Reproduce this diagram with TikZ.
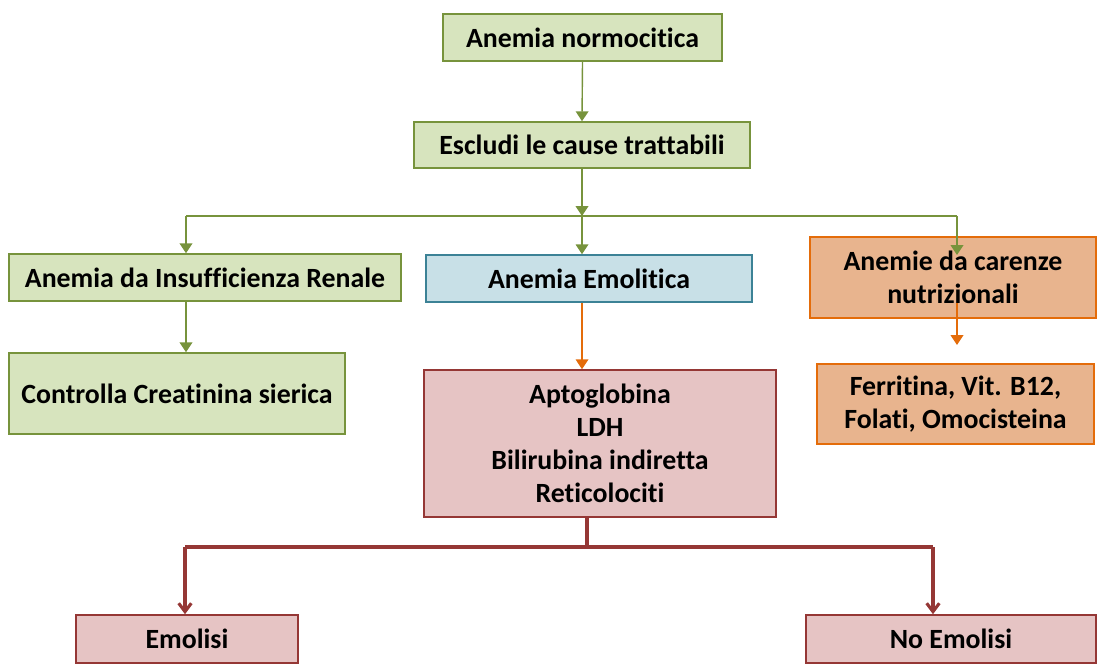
\documentclass[tikz,border=0pt]{standalone}
\usepackage{fontspec}
\setmainfont[Ligatures=NoCommon]{Carlito}
\usetikzlibrary{arrows.meta}
\definecolor{gfill}{RGB}{215,228,190}
\definecolor{gdraw}{RGB}{119,147,60}
\definecolor{bfill}{RGB}{200,224,231}
\definecolor{bdraw}{RGB}{60,130,150}
\definecolor{ofill}{RGB}{232,180,142}
\definecolor{odraw}{RGB}{228,108,10}
\definecolor{pfill}{RGB}{230,196,196}
\definecolor{pdraw}{RGB}{149,55,53}
\tikzset{
  box/.style={rectangle,line width=1.1pt,align=center,font=\fontsize{19.8}{23.5}\selectfont\bfseries,inner sep=2pt},
  greenbox/.style={box,draw=gdraw,fill=gfill},
  bluebox/.style={box,draw=bdraw,fill=bfill},
  orangebox/.style={box,draw=odraw,fill=ofill},
  pinkbox/.style={box,draw=pdraw,fill=pfill},
  gline/.style={draw=gdraw,line width=1pt},
  garrow/.style={gline,-{Triangle[width=9pt,length=7pt]}},
  oarrow/.style={draw=odraw,line width=1pt,-{Triangle[width=9pt,length=7pt]}},
  rline/.style={draw=pdraw,line width=2.2pt},
  rarrow/.style={rline,-{Straight Barb[width=9pt,length=6pt]}}
}
\begin{document}
\begin{tikzpicture}[x=0.025cm,y=-0.025cm]
\useasboundingbox (0,0) rectangle (1097,668);
\node[greenbox,minimum width=6.975cm,minimum height=1.175cm] (norm) at (582.5,37.5) {Anemia normocitica};
\node[greenbox,minimum width=8.4cm,minimum height=1.15cm] (escl) at (582,145) {Escludi le cause trattabili};
\node[greenbox,minimum width=9.8cm,minimum height=1.175cm] (renal) at (205,277.5) {Anemia da Insufficienza Renale};
\node[bluebox,minimum width=8.15cm,minimum height=1.175cm] (emol) at (589,278.5) {Anemia Emolitica};
\node[orangebox,minimum width=7.15cm,minimum height=2.025cm] (caren) at (953,277.5) {Anemie da carenze\\nutrizionali};
\node[greenbox,minimum width=8.4cm,minimum height=2.025cm] (creat) at (177,393.5) {Controlla Creatinina sierica};
\node[pinkbox,minimum width=8.8cm,minimum height=3.675cm] (lab) at (600,443.5) {Aptoglobina\\LDH\\Bilirubina indiretta\\Reticolociti};
\node[orangebox,minimum width=6.925cm,minimum height=2cm] (ferr) at (955.5,404) {Ferritina, Vit. B12,\\Folati, Omocisteina};
\node[pinkbox,minimum width=5.55cm,minimum height=1.2cm] (emolisi) at (187,639) {Emolisi};
\node[pinkbox,minimum width=7.25cm,minimum height=1.2cm] (noemol) at (951,639) {No Emolisi};
\coordinate (splitL) at (186,216);
\coordinate (splitM) at (582,216);
\coordinate (splitR) at (957,216);
\coordinate (carTip) at (957,255);
\coordinate (carOut) at (957,303);
\coordinate (ferTip) at (957,345);
\coordinate (labOut) at (587,547);
\coordinate (redL) at (185,547);
\coordinate (redR) at (933,547);
\draw[garrow] (norm.south) -- (escl.north);
\draw[garrow] (escl.south) -- (splitM);
\draw[gline] (splitL) -- (splitR);
\draw[garrow] (splitL) -- (splitL |- renal.north);
\draw[garrow] (splitM) -- (splitM |- emol.north);
\draw[garrow] (splitR) -- (carTip);
\draw[garrow] (splitL |- renal.south) -- (splitL |- creat.north);
\draw[oarrow] (splitM |- emol.south) -- (splitM |- lab.north);
\draw[oarrow] (carOut) -- (ferTip);
\draw[rline] (labOut |- lab.south) -- (labOut);
\draw[rline] (redL) -- (redR);
\draw[rarrow] (redL) -- (redL |- emolisi.north);
\draw[rarrow] (redR) -- (redR |- noemol.north);
\end{tikzpicture}
\end{document}
